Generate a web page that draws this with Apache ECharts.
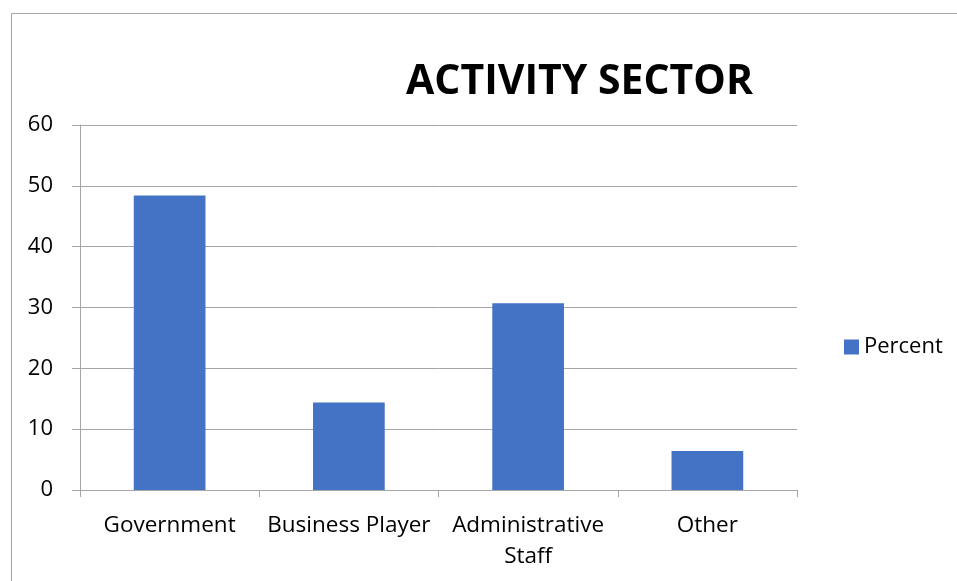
<!DOCTYPE html>
<html>
<head>
<meta charset="utf-8">
<script src="https://cdn.jsdelivr.net/npm/echarts@6/dist/echarts.min.js"></script>
<style>
  html, body { margin: 0; padding: 0; background: #ffffff; }
  #chart { width: 957px; height: 581px; }
</style>
</head>
<body>
<div id="chart"></div>
<script>
// Share of respondents by activity sector
const categories = ['Government', 'Business Player', 'Administrative\nStaff', 'Other'];
const percentValues = [48.4, 14.4, 30.7, 6.4];
const yTicks = { min: 0, max: 60, interval: 10 };

const FONT = '"Open Sans", "Noto Sans", sans-serif';
const GRID_GREY = '#a6a6a6';

const chart = echarts.init(document.getElementById('chart'), null, { renderer: 'canvas' });

chart.setOption({
  backgroundColor: '#ffffff',
  animation: false,
  title: {
    text: 'ACTIVITY SECTOR',
    left: 401,
    top: 57,
    textStyle: { fontFamily: FONT, fontWeight: 'bold', fontSize: 41, color: '#000000' }
  },
  legend: {
    data: ['Percent'],
    left: 839,
    top: 331,
    itemWidth: 15,
    itemHeight: 15,
    itemGap: 7,
    icon: 'rect',
    textStyle: { fontFamily: FONT, fontSize: 22, color: '#000000', padding: [0, 0, 0, 0] }
  },
  grid: { left: 80, right: 160, top: 125, bottom: 91, containLabel: false },
  xAxis: {
    type: 'category',
    data: categories,
    axisLine: { show: true, lineStyle: { color: GRID_GREY, width: 1 } },
    axisTick: { show: true, length: 7, lineStyle: { color: GRID_GREY } },
    axisLabel: {
      fontFamily: FONT, fontSize: 22.5, color: '#000000',
      margin: 20, lineHeight: 31, interval: 0
    }
  },
  yAxis: {
    type: 'value',
    min: yTicks.min,
    max: yTicks.max,
    interval: yTicks.interval,
    axisLine: { show: true, lineStyle: { color: GRID_GREY, width: 1 } },
    axisTick: { show: true, length: 8, lineStyle: { color: GRID_GREY } },
    axisLabel: { fontFamily: FONT, fontSize: 22, color: '#000000', margin: 27 },
    splitLine: { show: true, lineStyle: { color: GRID_GREY, width: 1 } }
  },
  series: [{
    name: 'Percent',
    type: 'bar',
    data: percentValues,
    barWidth: '40%',
    itemStyle: { color: '#4472C4' }
  }],
  graphic: [
    // chart-area frame: top and left edges
    { type: 'line', shape: { x1: 11.5, y1: 13.5, x2: 957, y2: 13.5 }, style: { stroke: '#a6a6a6', lineWidth: 1 } },
    { type: 'line', shape: { x1: 11.5, y1: 13.5, x2: 11.5, y2: 581 }, style: { stroke: '#a6a6a6', lineWidth: 1 } }
  ]
});
</script>
</body>
</html>
